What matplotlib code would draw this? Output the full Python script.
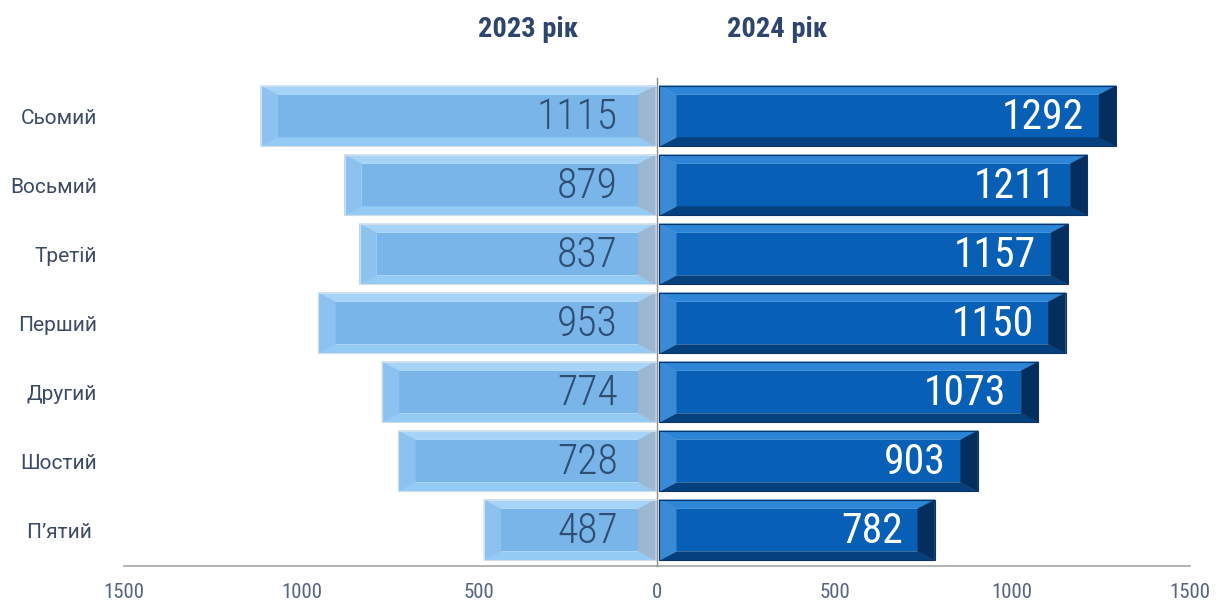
import matplotlib.pyplot as plt
from matplotlib.patches import Polygon

categories = ["П’ятий ", "Шостий", "Другий", "Перший", "Третій", "Восьмий", "Сьомий"]
values_2023 = [487, 728, 774, 953, 837, 879, 1115]
values_2024 = [782, 903, 1073, 1150, 1157, 1211, 1292]

FONT = ['Roboto Condensed', 'DejaVu Sans']
plt.rcParams['font.family'] = FONT

fig = plt.figure(figsize=(12.23, 6.05), dpi=100)
ax = fig.add_axes([0.1014, 0.0645, 0.8716, 0.812])
ax.set_xlim(-1500, 1500)
ax.set_ylim(-0.52, 6.6)

BAR_H = 0.44   # half height
BX = 48        # bevel width in x units
BY = 0.13      # bevel height in y units

# colours of the bevelled faces
light = dict(main='#79B5E9', top='#A6D4F8', bottom='#93CBF5', left='#8DC2F0',
             right='#9CB7D2', edge='#D3DCE6')
dark = dict(main='#0860B6', top='#2C85D6', bottom='#05407F', left='#3A8AD6',
            right='#032E5E', edge='#0A3566')


def bevel_bar(x0, x1, c, col):
    h = BAR_H
    bx = min(BX, abs(x1 - x0) / 2)
    t, b = c + h, c - h
    polys = {
        'main': [(x0 + bx, b + BY), (x1 - bx, b + BY), (x1 - bx, t - BY), (x0 + bx, t - BY)],
        'top': [(x0, t), (x1, t), (x1 - bx, t - BY), (x0 + bx, t - BY)],
        'bottom': [(x0, b), (x1, b), (x1 - bx, b + BY), (x0 + bx, b + BY)],
        'left': [(x0, b), (x0, t), (x0 + bx, t - BY), (x0 + bx, b + BY)],
        'right': [(x1, b), (x1, t), (x1 - bx, t - BY), (x1 - bx, b + BY)],
    }
    for k, pts in polys.items():
        ax.add_patch(Polygon(pts, closed=True, facecolor=col[k], edgecolor=col[k],
                             lw=0.3, zorder=2))
    ax.add_patch(Polygon([(x0, b), (x1, b), (x1, t), (x0, t)], closed=True,
                         facecolor='none', edgecolor=col['edge'], lw=0.8, zorder=3))


for i, (a, b) in enumerate(zip(values_2023, values_2024)):
    bevel_bar(-a, -4, i, light)
    bevel_bar(6, b, i, dark)
    ax.text(-110, i - 0.02, str(a), ha='right', va='center', fontsize=30,
            fontweight=300, color='#2F4D73', zorder=4)
    ax.text(b - 90, i - 0.02, str(b), ha='right', va='center', fontsize=30,
            fontweight=400, color='white', zorder=4)

ax.plot([0, 0], [-0.52, 6.55], color='#8C8C8C', lw=1, zorder=5, clip_on=False)

ax.text(-364, 7.25, '2023 рік', ha='center', va='center', fontsize=20.5,
        fontweight='bold', color='#2E4570')
ax.text(338, 7.25, '2024 рік', ha='center', va='center', fontsize=20.5,
        fontweight='bold', color='#2E4570')

ax.set_yticks(range(len(categories)))
ax.set_yticklabels(categories, fontsize=15, color='#3B4A66',
                   family=['Roboto', 'DejaVu Sans'])
ax.tick_params(axis='y', length=0, pad=19.5)

ticks = [-1500, -1000, -500, 0, 500, 1000, 1500]
ax.set_xticks(ticks)
ax.set_xticklabels([str(abs(t)) for t in ticks], fontsize=15, color='#56657F')
ax.tick_params(axis='x', length=0, pad=12)

for s in ['top', 'right', 'left']:
    ax.spines[s].set_visible(False)
ax.spines['bottom'].set_color('#A6A6A6')
ax.spines['bottom'].set_linewidth(1.2)

fig.savefig('out.png', dpi=100)
